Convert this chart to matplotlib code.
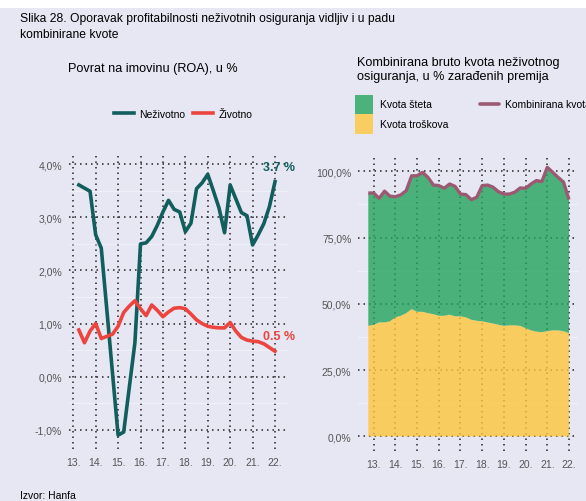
import numpy as np
import matplotlib
matplotlib.use("Agg")
import matplotlib.pyplot as plt
from matplotlib.patches import Rectangle
from matplotlib.lines import Line2D
from matplotlib.ticker import FuncFormatter, MultipleLocator

plt.rcParams['font.family'] = ['Liberation Sans', 'DejaVu Sans']

# ROA, kvartalno, 13.Q1 - 22.Q4 (os x u godinama, "13." = kraj 2012.)
roa_x = np.arange(13.25, 22.01, 0.25)
roa_nezivotno = [3.61, 3.55, 3.49, 2.67, 2.42, 1.25, 0.07, -1.10, -1.04, -0.20,
                 0.64, 2.50, 2.52, 2.64, 2.85, 3.10, 3.32, 3.15, 3.10, 2.73,
                 2.89, 3.54, 3.65, 3.81, 3.50, 3.18, 2.71, 3.61, 3.35, 3.09,
                 3.03, 2.48, 2.67, 2.88, 3.20, 3.67]
roa_zivotno = [0.88, 0.64, 0.86, 1.00, 0.72, 0.76, 0.80, 0.95, 1.21, 1.33,
               1.43, 1.28, 1.15, 1.35, 1.25, 1.13, 1.22, 1.29, 1.30, 1.28,
               1.18, 1.07, 1.00, 0.95, 0.93, 0.92, 0.92, 1.02, 0.86, 0.74,
               0.69, 0.67, 0.66, 0.62, 0.55, 0.48]

# kombinirana kvota i kvota troškova, kvartalno od 12.Q4
kv_x = np.arange(12.75, 22.01, 0.25)
kvota_kombinirana = [91.8, 91.8, 89.8, 92.5, 90.6, 90.4, 91.1, 92.7, 98.3, 98.3,
                     99.6, 97.7, 94.8, 94.6, 93.6, 95.2, 94.3, 91.4, 91.2, 89.3,
                     90.2, 94.6, 94.8, 94.0, 92.3, 91.4, 91.4, 92.1, 93.7, 93.6,
                     95.2, 96.5, 96.1, 101.5, 99.6, 97.7, 95.9, 89.3]
kvota_troskova = [41.7, 42.1, 43.0, 43.0, 43.4, 44.9, 45.5, 46.5, 48.0, 47.0,
                  47.0, 46.5, 46.1, 45.5, 45.5, 45.9, 45.3, 45.3, 44.9, 44.0,
                  43.6, 43.4, 43.0, 42.6, 42.1, 41.7, 41.9, 41.9, 41.7, 40.8,
                  40.0, 39.5, 39.3, 39.7, 40.0, 40.0, 39.7, 38.9]
kvota_steta = list(np.array(kvota_kombinirana) - np.array(kvota_troskova))

godine = list(range(13, 23))
godine_labels = [f"{g}." for g in godine]

BG = '#E6E7F3'
TEAL = '#125E5C'
RED = '#EC4540'
GREEN = '#24A45D'
YELLOW = '#FFC63A'
PURPLE = '#9C5A72'
TICK = '#555555'

fig = plt.figure(figsize=(5.86, 5.02), dpi=100, facecolor=BG)
fig.add_artist(Rectangle((0, 1 - 9 / 502), 1, 9 / 502, transform=fig.transFigure,
                         facecolor='white', edgecolor='none'))

fig.text(20 / 586, 1 - 27 / 502, "Slika 28. Oporavak profitabilnosti neživotnih osiguranja vidljiv i u padu\nkombinirane kvote",
         fontsize=8.7, va='center', ha='left', linespacing=1.4)
fig.text(68 / 586, 1 - 69 / 502, "Povrat na imovinu (ROA), u %", fontsize=9.1, va='center')
fig.text(357 / 586, 1 - 70 / 502, "Kombinirana bruto kvota neživotnog\nosiguranja, u % zarađenih premija",
         fontsize=9.1, va='center', linespacing=1.15)
fig.text(20 / 586, 1 - 496 / 502, "Izvor: Hanfa", fontsize=7.5, va='center')


def style_axes(ax):
    ax.set_facecolor(BG)
    for s in ax.spines.values():
        s.set_visible(False)
    ax.tick_params(which='both', length=0, labelsize=7.5, labelcolor=TICK)
    ax.tick_params(axis='y', pad=5)
    ax.tick_params(axis='x', pad=6)
    ax.grid(True, which='major', color='#222222', linestyle=(0, (1, 2.6)), linewidth=1.1)
    ax.grid(True, which='minor', axis='y', color='white', linewidth=0.7, alpha=0.45)
    ax.set_xticks(godine)
    ax.set_xticklabels(godine_labels)


# lijevi graf
ax1 = fig.add_axes([69 / 586, 1 - 450 / 502, 219 / 586, 293.3 / 502])
style_axes(ax1)
ax1.set_xlim(12.81, 22.58)
ax1.set_ylim(-1.36, 4.16)
ax1.yaxis.set_major_locator(MultipleLocator(1))
ax1.yaxis.set_minor_locator(MultipleLocator(0.5))
ax1.yaxis.set_major_formatter(FuncFormatter(lambda v, p: f"{v:.1f}%".replace('.', ',')))
l1, = ax1.plot(roa_x, roa_nezivotno, color=TEAL, lw=2.6, zorder=3)
l2, = ax1.plot(roa_x, roa_zivotno, color=RED, lw=2.6, zorder=3)
ax1.text(21.47, 3.94, f"{roa_nezivotno[-1]:.1f} %", color=TEAL, fontsize=9, fontweight='bold', va='center')
ax1.text(21.47, 0.76, f"{roa_zivotno[-1]:.1f} %", color=RED, fontsize=9, fontweight='bold', va='center')
fig.legend([l1, l2], ["Neživotno", "Životno"], loc='center', bbox_to_anchor=(183 / 586, 1 - 115 / 502),
           ncol=2, frameon=False, fontsize=7.5, handlelength=1.9, columnspacing=0.8, handletextpad=0.5)

# desni graf
ax2 = fig.add_axes([358.3 / 586, 1 - 451.7 / 502, 220 / 586, 294.4 / 502])
style_axes(ax2)
ax2.set_xlim(12.29, 22.43)
ax2.set_ylim(-5.4, 105.65)
ax2.yaxis.set_major_locator(MultipleLocator(25))
ax2.yaxis.set_minor_locator(MultipleLocator(12.5))
ax2.yaxis.set_major_formatter(FuncFormatter(lambda v, p: f"{v:.1f}%".replace('.', ',')))
ax2.stackplot(kv_x, kvota_troskova, kvota_steta, colors=[YELLOW, GREEN], alpha=0.8, zorder=2.5, linewidth=0)
ax2.plot(kv_x, kvota_kombinirana, color=PURPLE, lw=2.4, zorder=3, solid_capstyle='butt')

# legenda desno
fig.add_artist(Rectangle((355 / 586, 1 - 115 / 502), 18 / 586, 19 / 502, transform=fig.transFigure,
                         facecolor='#4BB27B', edgecolor='none'))
fig.add_artist(Rectangle((355 / 586, 1 - 135 / 502), 18 / 586, 20 / 502, transform=fig.transFigure,
                         facecolor='#F9CD5F', edgecolor='none'))
fig.text(380 / 586, 1 - 105 / 502, "Kvota šteta", fontsize=7.5, va='center')
fig.text(380 / 586, 1 - 125 / 502, "Kvota troškova", fontsize=7.5, va='center')
fig.add_artist(Line2D([480 / 586, 499 / 586], [1 - 105 / 502, 1 - 105 / 502], transform=fig.transFigure,
                      color=PURPLE, lw=2.6, solid_capstyle='round'))
fig.text(505 / 586, 1 - 105 / 502, "Kombinirana kvota", fontsize=7.5, va='center')

fig.savefig("out.png", dpi=100, facecolor=BG)
